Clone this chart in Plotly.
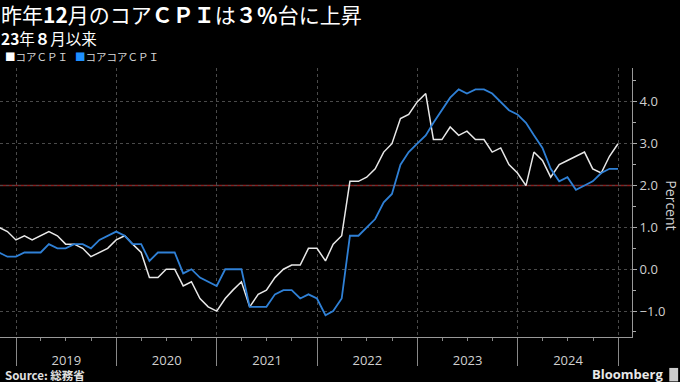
import pandas as pd
import plotly.graph_objects as go

months = pd.date_range("2018-10-31", "2024-12-31", freq="ME")

core_cpi = [
    1.0, 0.9, 0.7,
    0.8, 0.7, 0.8, 0.9, 0.8, 0.6, 0.6, 0.5, 0.3, 0.4, 0.5, 0.7,
    0.8, 0.6, 0.4, -0.2, -0.2, 0.0, 0.0, -0.4, -0.3, -0.7, -0.9, -1.0,
    -0.7, -0.5, -0.3, -0.9, -0.6, -0.5, -0.2, 0.0, 0.1, 0.1, 0.5, 0.5,
    0.2, 0.6, 0.8, 2.1, 2.1, 2.2, 2.4, 2.8, 3.0, 3.6, 3.7, 4.0,
    4.2, 3.1, 3.1, 3.4, 3.2, 3.3, 3.1, 3.1, 2.8, 2.9, 2.5, 2.3,
    2.0, 2.8, 2.6, 2.2, 2.5, 2.6, 2.7, 2.8, 2.4, 2.3, 2.7, 3.0,
]
core_core_cpi = [
    0.4, 0.3, 0.3,
    0.4, 0.4, 0.4, 0.6, 0.5, 0.5, 0.6, 0.6, 0.5, 0.7, 0.8, 0.9,
    0.8, 0.6, 0.6, 0.2, 0.4, 0.4, 0.4, -0.1, 0.0, -0.2, -0.3, -0.4,
    0.0, 0.0, 0.0, -0.9, -0.9, -0.9, -0.6, -0.5, -0.5, -0.7, -0.6, -0.7,
    -1.1, -1.0, -0.7, 0.8, 0.8, 1.0, 1.2, 1.6, 1.8, 2.5, 2.8, 3.0,
    3.2, 3.5, 3.8, 4.1, 4.3, 4.2, 4.3, 4.3, 4.2, 4.0, 3.8, 3.7,
    3.5, 3.2, 2.9, 2.4, 2.1, 2.2, 1.9, 2.0, 2.1, 2.3, 2.4, 2.4,
]
series_names = ["コアＣＰＩ", "コアコアＣＰＩ"]
target_rate = 2.0

WHITE = "#e8e8e8"
BLUE = "#2f80d6"
FONT = "Noto Sans CJK JP"

fig = go.Figure()
fig.add_trace(go.Scatter(x=months, y=core_cpi, mode="lines", name=series_names[0],
                         line=dict(color=WHITE, width=1.5), showlegend=False))
fig.add_trace(go.Scatter(x=months, y=core_core_cpi, mode="lines", name=series_names[1],
                         line=dict(color=BLUE, width=1.8), showlegend=False))

fig.add_hline(y=target_rate, line=dict(color="#8a1c1c", width=1.5), layer="below")

fig.update_layout(
    width=680, height=382,
    paper_bgcolor="black", plot_bgcolor="black",
    margin=dict(l=0, r=48, t=68, b=45),
    font=dict(family=FONT, color="#d0d0d0", size=13),
    xaxis=dict(
        type="date",
        range=["2018-11-03", "2025-02-20"],
        dtick="M12", tick0="2019-01-01",
        ticklabelmode="period", tickformat="%Y",
        ticks="outside", ticklen=28, tickcolor="#888", tickwidth=1,
        ticklabelstandoff=-17,
        showgrid=True, gridcolor="#4a4a4a", griddash="dot", gridwidth=1,
        showline=True, linecolor="#999", linewidth=1,
        tickfont=dict(family="Open Sans", size=13, color="#d0d0d0"),
        minor=dict(dtick="M3", ticks="outside", ticklen=3, tickcolor="#888", showgrid=False),
        zeroline=False,
    ),
    yaxis=dict(
        side="right",
        range=[-1.62, 4.81],
        dtick=1, tick0=0, tickformat=".1f",
        ticks="outside", ticklen=4, tickcolor="#aaa",
        showgrid=True, gridcolor="#4a4a4a", griddash="dot", gridwidth=1,
        showline=True, linecolor="#999", linewidth=1,
        zeroline=False,
        tickfont=dict(family="Open Sans", size=13, color="#d0d0d0"),
        minor=dict(dtick=0.5, ticks="outside", ticklen=3, tickcolor="#aaa", showgrid=False),
    ),
)

anns = [
    dict(text="昨年<b>12</b>月のコア<b>ＣＰＩ</b>は<b>３％</b>台に上昇", x=0.0, y=1.199,
         xanchor="left", yanchor="middle", borderpad=0,
         font=dict(size=21, color="white", family=FONT)),
    dict(text="<b>23</b>年<b>８</b>月以来", x=0.0, y=1.113, xanchor="left", yanchor="middle",
         borderpad=0, font=dict(size=15.5, color="white", family=FONT)),
    dict(text=f"<span style='color:white'>■</span>{series_names[0]}   "
              f"<span style='color:#1e90ff'>■</span>{series_names[1]}",
         x=0.004, y=1.041, xanchor="left", yanchor="middle",
         font=dict(size=10.5, color="#d8d8d8", family=FONT)),
    dict(text="Percent", x=1.063, y=0.49, textangle=90, xanchor="center", yanchor="middle",
         font=dict(size=14, color="#d0d0d0", family="Open Sans")),
    dict(text="<b>Source: 総務省</b>", x=0.004, y=-0.141, xanchor="left", yanchor="middle",
         font=dict(size=11.5, color="#e0e0e0", family=FONT)),
    dict(text="<b>Bloomberg</b>", x=1.052, y=-0.137, xanchor="right", yanchor="middle",
         font=dict(size=13, color="#e8e8e8", family="Open Sans")),
]
for a in anns:
    a.update(xref="paper", yref="paper", showarrow=False)
    fig.add_annotation(**a)

fig.add_shape(type="rect", xref="paper", yref="paper", x0=1.059, x1=1.073, y0=-0.165, y1=-0.115,
              fillcolor="#cccccc", line=dict(width=0))

fig.write_html("out.html", config={"displayModeBar": False},
               post_script="document.body.style.margin='0';document.body.style.overflow='hidden';")
